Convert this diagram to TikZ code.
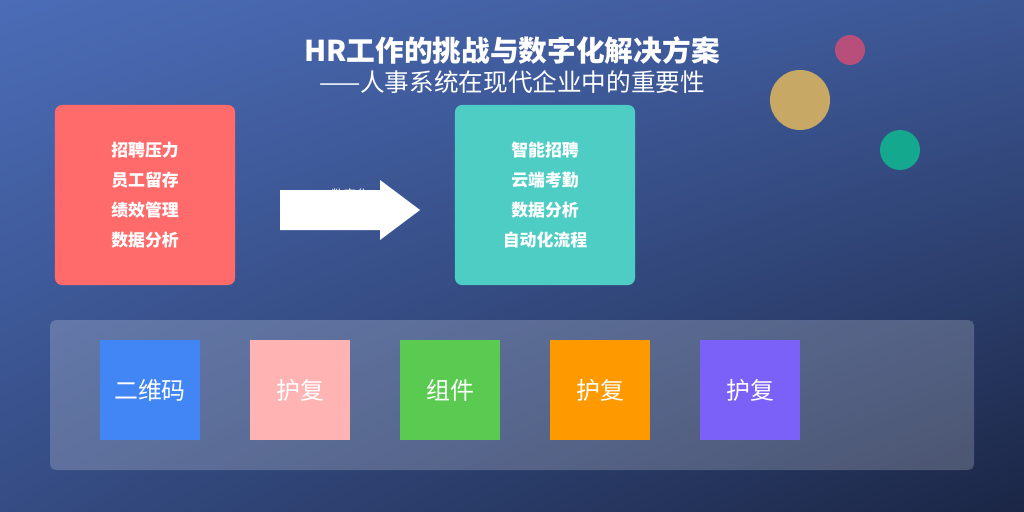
\documentclass[tikz,border=0pt]{standalone}
\usepackage{fontspec}
\setmainfont{Noto Sans CJK SC}
\usetikzlibrary{positioning,shadings}
\definecolor{bgtl}{HTML}{4B6CB7}
\definecolor{bgbr}{HTML}{1B2645}
\definecolor{redbox}{HTML}{FF6B6B}
\definecolor{tealbox}{HTML}{4ECDC4}
\begin{document}
\begin{tikzpicture}[x=0.025cm, y=-0.025cm]
    % Define styles
    \tikzset{
        card/.style={rectangle, rounded corners=5pt, minimum width=4.5cm, minimum height=4.5cm, align=center, font=\fontsize{12}{21.3}\selectfont\bfseries, text=white},
        tile/.style={rectangle, minimum width=2.5cm, minimum height=2.5cm, font=\fontsize{17}{18}\selectfont, text=white}
    }

    % Background
    \shade[upper left=bgtl, upper right=bgtl!70!bgbr, lower left=bgtl!55!bgbr, lower right=bgbr] (0,0) rectangle (1024,512);
    \useasboundingbox (0,0) rectangle (1024,512);

    % Title
    \node (title) at (512,50) {\fontsize{20.4}{22}\selectfont\bfseries\color{white}HR工作的挑战与数字化解决方案};
    \node (subtitle) at (512,82) {\fontsize{17.5}{20}\selectfont\color{white}——人事系统在现代企业中的重要性};

    % Decorative circles
    \fill[color={rgb,255:red,184;green,79;blue,122}] (850,50) circle (15);
    \fill[color={rgb,255:red,200;green,168;blue,101}] (800,100) circle (30);
    \fill[color={rgb,255:red,20;green,168;blue,142}] (900,150) circle (20);

    % Cards
    \node (problems) [card, fill=redbox] at (145,195) {招聘压力\\员工留存\\绩效管理\\数据分析};
    \node (solutions) [card, fill=tealbox] at (545,195) {智能招聘\\云端考勤\\数据分析\\自动化流程};

    % Arrow with label
    \node (arrowlabel) at (350,195) {\fontsize{9}{10}\selectfont\color{white}数字化};
    \fill[white] (280,190) -- (380,190) -- (380,180) -- (420,210) -- (380,240) -- (380,230) -- (280,230) -- cycle;

    % Bottom panel
    \fill[white, opacity=0.2, rounded corners=4pt] (50,320) rectangle (974,470);
    \node (qr) [tile, fill={rgb,255:red,66;green,133;blue,244}] at (150,390) {二维码};
    \node (fixa) [tile, fill={rgb,255:red,255;green,179;blue,179}] at (300,390) {护复};
    \node (comp) [tile, fill={rgb,255:red,90;green,203;blue,80}] at (450,390) {组件};
    \node (fixb) [tile, fill={rgb,255:red,255;green,153;blue,0}] at (600,390) {护复};
    \node (fixc) [tile, fill={rgb,255:red,123;green,97;blue,248}] at (750,390) {护复};
\end{tikzpicture}
\end{document}
